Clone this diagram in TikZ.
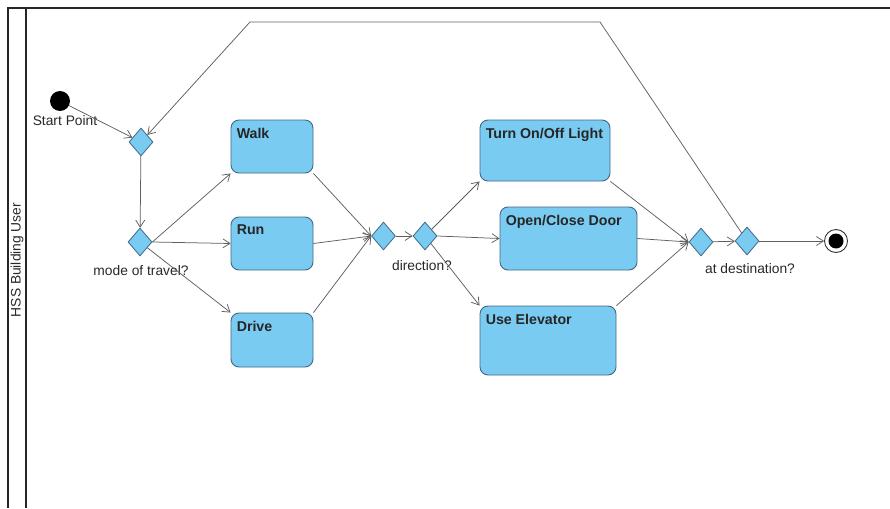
\documentclass[tikz,border=0pt]{standalone}
\usepackage{fontspec}
\setmainfont{Liberation Sans}
\usetikzlibrary{arrows.meta,shapes.geometric}
\definecolor{actblue}{RGB}{122,203,242}
\definecolor{actedge}{RGB}{64,104,134}
\definecolor{flowgray}{RGB}{95,95,95}
\definecolor{textgray}{RGB}{40,40,40}

\begin{document}
\begin{tikzpicture}[x=1pt, y=-1pt,
    font=\fontsize{13.8}{16}\selectfont,
    action/.style={draw=actedge, fill=actblue, rounded corners=8pt, line width=0.9pt, inner sep=0pt},
    actlabel/.style={anchor=north west, inner sep=0pt, xshift=6pt, yshift=-8pt,
        font=\fontsize{14.2}{16}\selectfont\bfseries, text=black!85},
    choice/.style={diamond, draw=actedge, fill=actblue, line width=0.8pt, inner sep=0pt,
        minimum width=24pt, minimum height=28pt},
    note/.style={text=textgray, inner sep=1pt},
    flow/.style={draw=flowgray, line width=0.75pt, -{Straight Barb[length=7pt,width=9pt]}}]
    \useasboundingbox (0,0) rectangle (890,508);

    % Swimlane
    \draw[line width=1.2pt, black!85] (8,508) -- (8,8) -- (890,8);
    \draw[line width=1.2pt, black!85] (26,8) -- (26,508);
    \node[note, rotate=90] (lane) at (17,260) {HSS Building User};

    % Start and merge
    \node[circle, fill=black, minimum size=20pt, inner sep=0pt] (start) at (60,101) {};
    \node[note] (startlbl) at (65,121) {Start Point};
    \node[choice] (d1) at (141,142) {};
    \node[choice] (d2) at (140,242) {};
    \node[note] (d2lbl) at (141,271) {mode of travel?};

    % Travel actions
    \node[action, minimum width=82pt, minimum height=53pt, label={[actlabel]north west:Walk}] (walk) at (272,146.5) {};
    \node[action, minimum width=82pt, minimum height=53pt, label={[actlabel]north west:Run}] (run) at (272,243.5) {};
    \node[action, minimum width=82pt, minimum height=54pt, label={[actlabel]north west:Drive}] (drive) at (272,340) {};

    % Direction
    \node[choice] (d3) at (383.5,236) {};
    \node[choice] (d4) at (425,236) {};
    \node[note] (d4lbl) at (422,266) {direction?};

    % Building actions
    \node[action, minimum width=130pt, minimum height=61pt, label={[actlabel]north west:Turn On/Off Light}] (light) at (545,150.5) {};
    \node[action, minimum width=137pt, minimum height=63pt, label={[actlabel]north west:Open/Close Door}] (door) at (568.5,238.5) {};
    \node[action, minimum width=136pt, minimum height=69pt, label={[actlabel]north west:Use Elevator}] (elev) at (548,340.5) {};

    % Destination and end
    \node[choice] (d5) at (701,242) {};
    \node[choice] (d6) at (747,241) {};
    \node[note] (d6lbl) at (750,269) {at destination?};
    \node[circle, draw=black!80, fill=white, line width=0.9pt, minimum size=23pt, inner sep=0pt] (finish) at (836,241) {};
    \node[circle, fill=black, minimum size=15pt, inner sep=0pt] (finishdot) at (finish) {};

    % Flows
    \draw[flow] (start) -- (d1);
    \draw[flow] (d1) -- (d2);
    \draw[flow] (d2.east) -- (walk.south west);
    \draw[flow] (d2.east) -- (run.west);
    \draw[flow] (d2) -- (drive.north west);
    \draw[flow] (walk.south east) -- (d3.west);
    \draw[flow] (run.east) -- (d3.west);
    \draw[flow] (drive.north east) -- (d3.west);
    \draw[flow] (d3) -- (d4);
    \draw[flow] (d4) -- (light.south west);
    \draw[flow] (d4.east) -- (door.west);
    \draw[flow] (d4) -- (elev.north west);
    \draw[flow] (light.south east) -- (d5.west);
    \draw[flow] (door.east) -- (d5.west);
    \draw[flow] (elev.north east) -- (d5.west);
    \draw[flow] (d5) -- (d6);
    \draw[flow] (d6) -- (finish);

    % Loop back
    \coordinate (loopR) at (600,22);
    \coordinate (loopL) at (250,22);
    \draw[flow] (d6) -- (loopR) -- (loopL) -- (d1);
\end{tikzpicture}
\end{document}
